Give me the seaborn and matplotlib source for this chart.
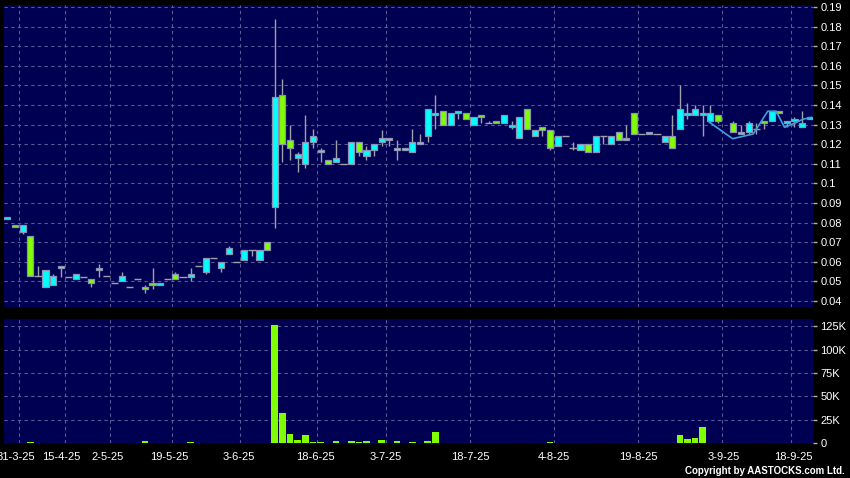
import numpy as np
import pandas as pd
import matplotlib
matplotlib.use("Agg")
import matplotlib.pyplot as plt
import seaborn as sns
from matplotlib.ticker import FuncFormatter

# ---------------- data ----------------
opens = [.082, .079, .075, .073, .053, .047, .048, .058, .052, .051,
         .052, .051, .056, .053, .049, .050, .047, .051, .047, .049,
         .048, .051, .054, .052, .052, .058, .055, .062, .057, .064,
         .060, .061, .066, .061, .070, .088, .145, .122, .113, .110,
         .121, .116, .112, .111, .110, .110, .121, .114, .117, .121,
         .122, .118, .118, .116, .120, .124, .135, .137, .130, .136,
         .136, .130, .135, .131, .132, .131, .129, .123, .138, .124,
         .129, .127, .119, .124, .118, .117, .120, .116, .124, .120,
         .126, .122, .136, .125, .125, .125, .121, .124, .128, .135,
         .135, .135, .132, .135, np.nan, .131, .125, .126, .128, .132,
         .132, .137, .131, .132, .129, .133]
highs = [.083, .079, .079, .073, .058, .056, .054, .058, .052, .054,
         .052, .051, .059, .053, .049, .055, .047, .051, .048, .057,
         .049, .051, .055, .052, .057, .058, .062, .062, .060, .068,
         .060, .066, .066, .066, .070, .184, .153, .130, .116, .135,
         .128, .118, .112, .122, .110, .121, .121, .119, .120, .127,
         .123, .122, .118, .128, .125, .138, .145, .137, .136, .137,
         .136, .134, .135, .132, .132, .135, .132, .134, .138, .127,
         .129, .127, .124, .124, .121, .120, .120, .124, .124, .124,
         .126, .130, .136, .125, .126, .125, .124, .135, .150, .141,
         .140, .140, .140, .135, np.nan, .132, .130, .132, .131, .132,
         .137, .137, .132, .134, .137, .134]
lows = [.082, .078, .074, .053, .053, .047, .048, .052, .052, .051,
        .052, .047, .052, .053, .049, .050, .047, .051, .044, .046,
        .048, .051, .051, .052, .050, .058, .054, .062, .055, .064,
        .060, .061, .063, .061, .066, .077, .111, .112, .106, .108,
        .118, .111, .110, .111, .110, .110, .114, .112, .114, .119,
        .119, .112, .117, .116, .120, .121, .128, .130, .130, .133,
        .133, .130, .131, .131, .131, .131, .128, .123, .128, .124,
        .124, .117, .119, .124, .117, .117, .116, .116, .120, .120,
        .122, .122, .125, .125, .125, .125, .121, .118, .128, .133,
        .135, .124, .131, .131, np.nan, .126, .125, .125, .125, .128,
        .132, .136, .129, .129, .129, .133]
closes = [.083, .078, .079, .053, .053, .056, .053, .057, .052, .054,
          .052, .049, .057, .053, .049, .053, .047, .051, .046, .048,
          .049, .051, .051, .052, .054, .058, .062, .062, .060, .067,
          .060, .066, .066, .066, .066, .144, .120, .118, .115, .121,
          .124, .117, .110, .113, .110, .121, .116, .117, .120, .123,
          .123, .117, .117, .121, .121, .138, .136, .130, .136, .137,
          .133, .134, .134, .131, .131, .135, .130, .134, .128, .127,
          .127, .118, .124, .124, .118, .120, .116, .124, .124, .124,
          .122, .123, .125, .125, .126, .125, .124, .118, .138, .136,
          .138, .136, .136, .132, np.nan, .126, .126, .131, .128, .131,
          .137, .136, .132, .133, .131, .134]
volumes = [0, 0, 0, 1000, 0, 0, 0, 500, 0, 0,
           0, 0, 500, 0, 0, 300, 0, 0, 2000, 0,
           0, 0, 0, 0, 1500, 0, 500, 0, 0, 300,
           0, 0, 300, 300, 0, 126000, 32600, 9600, 3500, 8900,
           1400, 1400, 500, 2500, 0, 2800, 1400, 2000, 500, 3000,
           500, 2500, 500, 1400, 500, 2800, 12400, 700, 500, 500,
           200, 200, 200, 0, 200, 500, 0, 300, 300, 0,
           0, 1400, 300, 0, 0, 0, 0, 0, 300, 0,
           300, 0, 300, 0, 0, 0, 0, 500, 8900, 4300,
           6000, 17000, 700, 0, 0, 0, 0, 0, 0, 0,
           700, 0, 0, 0, 0, 0]
overlay_x = [91.7, 94.9, 97.6, 99.5, 100.6, 101.7, 103.0, 104.1, 105.2]
overlay_y = [.1317, .1228, .1252, .1368, .1368, .1286, .1307, .1327, .1337]
grid_pos = [1.5, 7.5, 13.5, 21.5, 30.5, 40.5, 49.5, 60.5, 71.5, 82.5, 93.5, 102.5]
tick_pos = [1.1, 7.1, 13.1, 21.25, 30.3, 40.35, 49.5, 60.55, 71.55, 82.55, 93.75, 102.85]
tick_labels = ["31-3-25", "15-4-25", "2-5-25", "19-5-25", "3-6-25", "18-6-25",
               "3-7-25", "18-7-25", "4-8-25", "19-8-25", "3-9-25", "18-9-25"]
price_ticks = [0.04, 0.05, 0.06, 0.07, 0.08, 0.09, 0.10, 0.11, 0.12, 0.13,
               0.14, 0.15, 0.16, 0.17, 0.18, 0.19]
vol_ticks = [0, 25000, 50000, 75000, 100000, 125000]

# ---------------- style ----------------
sns.set_theme(style="dark")
plt.rcParams['font.family'] = ['Liberation Sans', 'DejaVu Sans']

BG = '#000000'
PANEL = '#000052'
GRID = '#5a5a96'
UP = '#00FFFF'
DOWN = '#80FF00'
EDGE = '#8c94b4'
WICK = '#a0a0a8'
TXT = '#ffffff'
DASH = (0, (3, 3))

df = pd.DataFrame({'idx': np.arange(len(opens)), 'open': opens, 'high': highs,
                   'low': lows, 'close': closes, 'volume': volumes})

fig = plt.figure(figsize=(8.5, 4.78), dpi=100, facecolor=BG)
W, H = 850, 478
axp = fig.add_axes([4 / W, 1 - 306.7 / H, (813.3 - 4) / W, (306.7 - 5) / H])
axv = fig.add_axes([4 / W, 1 - 443.3 / H, (813.3 - 4) / W, (443.3 - 319.3) / H])

for ax in (axp, axv):
    ax.set_facecolor(PANEL)
    for s in ax.spines.values():
        s.set_visible(False)
    ax.grid(False)
    ax.yaxis.grid(True, color=GRID, linestyle=DASH, linewidth=0.8)
    for g in grid_pos:
        ax.axvline(g, color=GRID, linestyle=DASH, linewidth=0.8, zorder=1)
    ax.set_axisbelow(True)

# ---------------- price panel ----------------
valid = df.dropna()
axp.vlines(valid['idx'], valid['low'], valid['high'], color=WICK, linewidth=1.0, zorder=2)
flat = valid[valid['open'] == valid['close']]
axp.hlines(flat['close'], flat['idx'] - 0.48, flat['idx'] + 0.48, color=WICK,
           linewidth=1.0, zorder=3)
body = valid[valid['open'] != valid['close']]
cols = [UP if c > o else DOWN for o, c in zip(body['open'], body['close'])]
axp.bar(body['idx'], body['close'] - body['open'], bottom=body['open'], width=0.8,
        color=cols, edgecolor=EDGE, linewidth=0.9, zorder=4)
sns.lineplot(x=overlay_x, y=overlay_y, ax=axp, color='#3f9fe0', linewidth=1.2,
             zorder=5, sort=False)

axp.set_xlim(-0.43, 105.46)
axp.set_ylim(0.0371, 0.191)
axp.set_xticks([])
axp.set_yticks(price_ticks)
axp.yaxis.tick_right()
axp.yaxis.set_major_formatter(FuncFormatter(
    lambda v, p: "0.1" if abs(v - 0.1) < 1e-9 else f"{v:.2f}"))
axp.tick_params(axis='y', colors='#b0b0b0', labelcolor=TXT, length=3, width=1,
                pad=2, labelsize=8)
axp.set_xlabel('')
axp.set_ylabel('')

# ---------------- volume panel ----------------
sns.barplot(data=df, x='idx', y='volume', color=DOWN, width=0.86, saturation=1,
            ax=axv, native_scale=True, linewidth=0, zorder=3)
axv.set_xlim(-0.43, 105.46)
axv.set_ylim(0, 132400)
axv.set_yticks(vol_ticks)
axv.yaxis.tick_right()
axv.yaxis.set_major_formatter(FuncFormatter(lambda v, p: "0" if v == 0 else f"{int(v/1000)}K"))
axv.tick_params(axis='y', colors='#b0b0b0', labelcolor=TXT, length=3, width=1,
                pad=2, labelsize=8)
axv.set_xticks(tick_pos)
axv.set_xticklabels(tick_labels)
axv.tick_params(axis='x', colors='#b0b0b0', labelcolor=TXT, length=3, width=1,
                pad=3, labelsize=8)
axv.set_xlabel('')
axv.set_ylabel('')

fig.text(845 / W, 1 - 471.5 / H, "Copyright by AASTOCKS.com Ltd.", color=TXT,
         fontsize=7, fontweight='bold', ha='right', va='center')

fig.savefig('out.png', dpi=100, facecolor=BG)
